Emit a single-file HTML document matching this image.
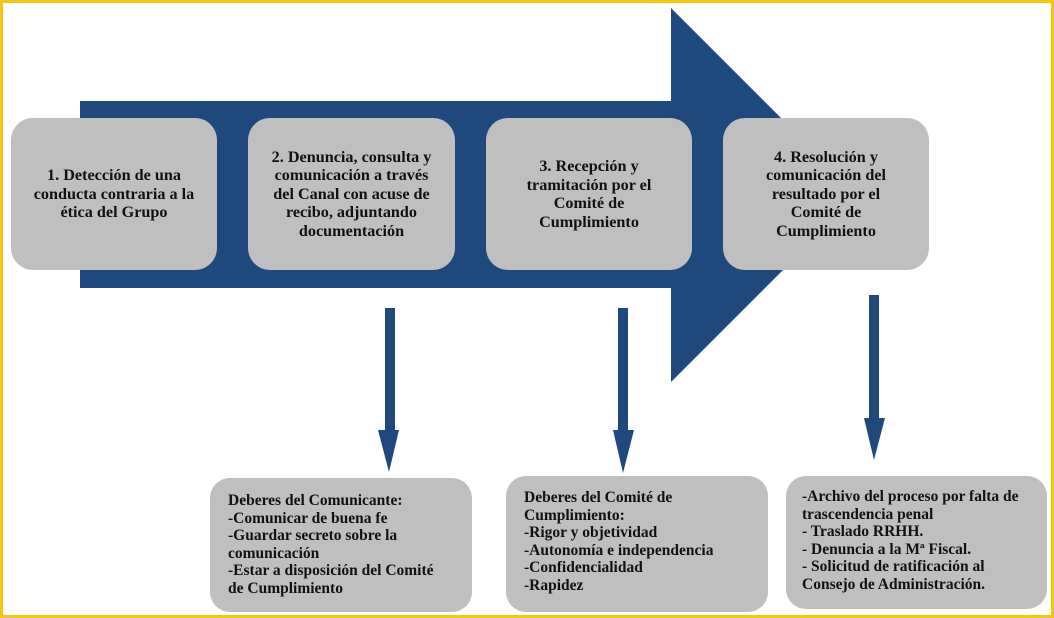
<!DOCTYPE html>
<html><head><meta charset="utf-8"><style>
html,body{margin:0;padding:0}
body{width:1054px;height:618px;position:relative;background:#fff;overflow:hidden;font-family:"Liberation Serif",serif;font-weight:bold;color:#111}
.frame{position:absolute;left:0;top:0;width:1048px;height:612px;border:3px solid #f3c613}
.box{position:absolute;background:#bfbfbf;border-radius:22px;display:flex;align-items:center;justify-content:center;text-align:center;font-size:16.2px;line-height:18.5px;white-space:nowrap}
.bb{position:absolute;background:#bfbfbf;border-radius:20px;font-size:15.5px;line-height:17.6px;box-sizing:border-box;white-space:nowrap}
</style></head><body>
<div class="frame"></div>
<svg width="1054" height="618" style="position:absolute;left:0;top:0">
<polygon points="80,101 671,101 671,8 858,195 671,382 671,288 80,288" fill="#1f497d"/>
<rect x="385" y="308" width="10" height="124" fill="#1f497d"/>
<polygon points="378,430 399,430 389,472" fill="#1f497d"/>
<rect x="618" y="308" width="10" height="124" fill="#1f497d"/>
<polygon points="613,430 634,430 623,473" fill="#1f497d"/>
<rect x="869" y="295" width="10" height="125" fill="#1f497d"/>
<polygon points="864,418 885,418 874,460" fill="#1f497d"/>
</svg>
<div class="box" style="left:11px;top:118px;width:206px;height:152px">1. Detección de una<br>conducta contraria a la<br>ética del Grupo</div>
<div class="box" style="left:248px;top:118px;width:207px;height:152px">2. Denuncia, consulta y<br>comunicación a través<br>del Canal con acuse de<br>recibo, adjuntando<br>documentación</div>
<div class="box" style="left:486px;top:118px;width:206px;height:152px">3. Recepción y<br>tramitación por el<br>Comité de<br>Cumplimiento</div>
<div class="box" style="left:723px;top:118px;width:206px;height:152px">4. Resolución y<br>comunicación del<br>resultado por el<br>Comité de<br>Cumplimiento</div>
<div class="bb" style="left:210px;top:478px;width:262px;height:134px;padding-left:18px;padding-top:14px">Deberes del Comunicante:<br>-Comunicar de buena fe<br>-Guardar secreto sobre la<br>comunicación<br>-Estar a disposición del Comité<br>de Cumplimiento</div>
<div class="bb" style="left:506px;top:476px;width:262px;height:136px;padding-left:18px;padding-top:13px">Deberes del Comité de<br>Cumplimiento:<br>-Rigor y objetividad<br>-Autonomía e independencia<br>-Confidencialidad<br>-Rapidez</div>
<div class="bb" style="left:786px;top:476px;width:261px;height:133px;padding-left:16px;padding-top:12px">-Archivo del proceso por falta de<br>trascendencia penal<br>- Traslado RRHH.<br>- Denuncia a la Mª Fiscal.<br>- Solicitud de ratificación al<br>Consejo de Administración.</div>
</body></html>
